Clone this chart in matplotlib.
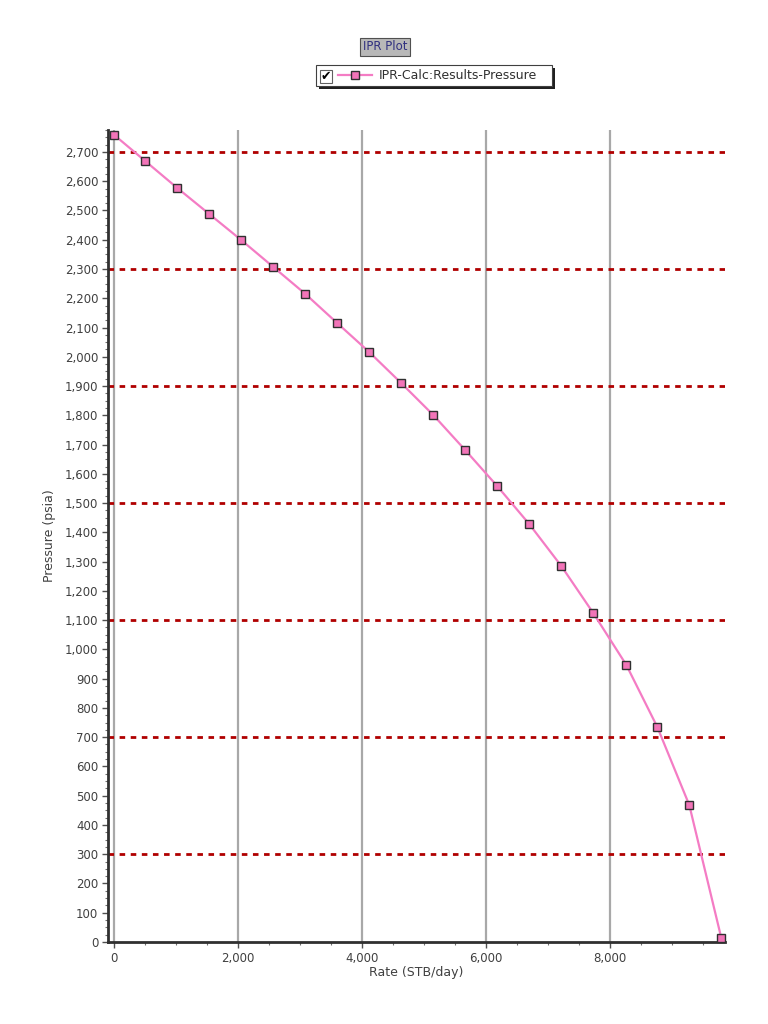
import numpy as np
import matplotlib.pyplot as plt
from matplotlib.patches import Rectangle
from matplotlib.lines import Line2D
from matplotlib.ticker import MultipleLocator, FuncFormatter

# IPR curve
rate = [0, 500, 1016, 1532, 2048, 2565, 3081, 3597, 4113, 4629,
        5145, 5661, 6177, 6694, 7210, 7726, 8258, 8758, 9274, 9790]
pressure = [2758, 2669, 2577, 2488, 2399, 2307, 2215, 2115, 2016, 1910,
            1801, 1681, 1558, 1428, 1285, 1124, 947, 735, 468, 14]

red_levels = [300, 700, 1100, 1500, 1900, 2300, 2700]
gray_levels = [0, 2000, 4000, 6000, 8000]

W, H = 768, 1024
fig = plt.figure(figsize=(W / 100, H / 100), dpi=100)
ax = fig.add_axes([108 / W, 1 - 942 / H, (725 - 108) / W, (942 - 130) / H])

ax.set_xlim(-100, 9850)
ax.set_ylim(0, 2775)

for g in gray_levels:
    ax.axvline(g, color='#a8a8a8', lw=1.6, zorder=1)
for r in red_levels:
    ax.axhline(r, color='#b00000', lw=2, ls=(0, (2, 2)), zorder=1)

pink = '#f47cc4'
mfill = '#f274b8'
line, = ax.plot(rate, pressure, color=pink, lw=1.6, marker='s', ms=6,
                mfc=mfill, mec='#303030', mew=1.0, zorder=3, clip_on=False)

for s in ['top', 'right']:
    ax.spines[s].set_visible(False)
for s in ['left', 'bottom']:
    ax.spines[s].set_linewidth(2)
    ax.spines[s].set_color('#303030')

ax.xaxis.set_major_locator(MultipleLocator(2000))
ax.xaxis.set_minor_locator(MultipleLocator(500))
ax.yaxis.set_major_locator(MultipleLocator(100))
ax.yaxis.set_minor_locator(MultipleLocator(25))
fmt = FuncFormatter(lambda v, p: f'{int(v):,}')
ax.xaxis.set_major_formatter(fmt)
ax.yaxis.set_major_formatter(fmt)
ax.tick_params(which='major', length=4, width=1, color='#505050',
               labelsize=8.5, labelcolor='#404040', pad=3)
ax.tick_params(which='minor', length=2, width=0.8, color='#707070')

ax.set_xlabel('Rate (STB/day)', fontsize=9, color='#404040', labelpad=1)
ax.set_ylabel('Pressure (psia)', fontsize=9, color='#404040', labelpad=6)

# title box
fig.text(385 / W, 1 - 47 / H, 'IPR Plot', ha='center', va='center',
         fontsize=8.5, color='#303080',
         bbox=dict(boxstyle='square,pad=0.25', fc='#b8b8b8', ec='#505050', lw=0.8))

# legend box with shadow
lx0, ly0, lx1, ly1 = 316, 65, 552, 86
fig.patches.append(Rectangle(((lx0 + 3) / W, 1 - (ly1 + 3) / H), (lx1 - lx0) / W,
                             (ly1 - ly0) / H, transform=fig.transFigure,
                             fc='#202020', ec='none', zorder=1))
fig.patches.append(Rectangle((lx0 / W, 1 - ly1 / H), (lx1 - lx0) / W,
                             (ly1 - ly0) / H, transform=fig.transFigure,
                             fc='white', ec='#404040', lw=0.8, zorder=2))
fig.patches.append(Rectangle((320 / W, 1 - 83 / H), 12 / W, 13 / H,
                             transform=fig.transFigure, fc='white',
                             ec='#606060', lw=0.8, zorder=3))
fig.text(326 / W, 1 - 76.5 / H, '\u2714', ha='center', va='center',
         fontsize=9, color='black', zorder=4)
fig.lines.append(Line2D([338 / W, 372 / W], [1 - 75 / H, 1 - 75 / H],
                        transform=fig.transFigure, color=pink, lw=1.6,
                        zorder=4))
fig.lines.append(Line2D([355 / W], [1 - 75 / H], transform=fig.transFigure,
                        marker='s', ms=6, mfc=mfill, mec='#303030',
                        mew=1.0, zorder=5))
fig.text(379 / W, 1 - 75.5 / H, 'IPR-Calc:Results-Pressure',
         ha='left', va='center', fontsize=9, color='#303030', zorder=4)

fig.savefig('out.png', dpi=100, facecolor='white')
